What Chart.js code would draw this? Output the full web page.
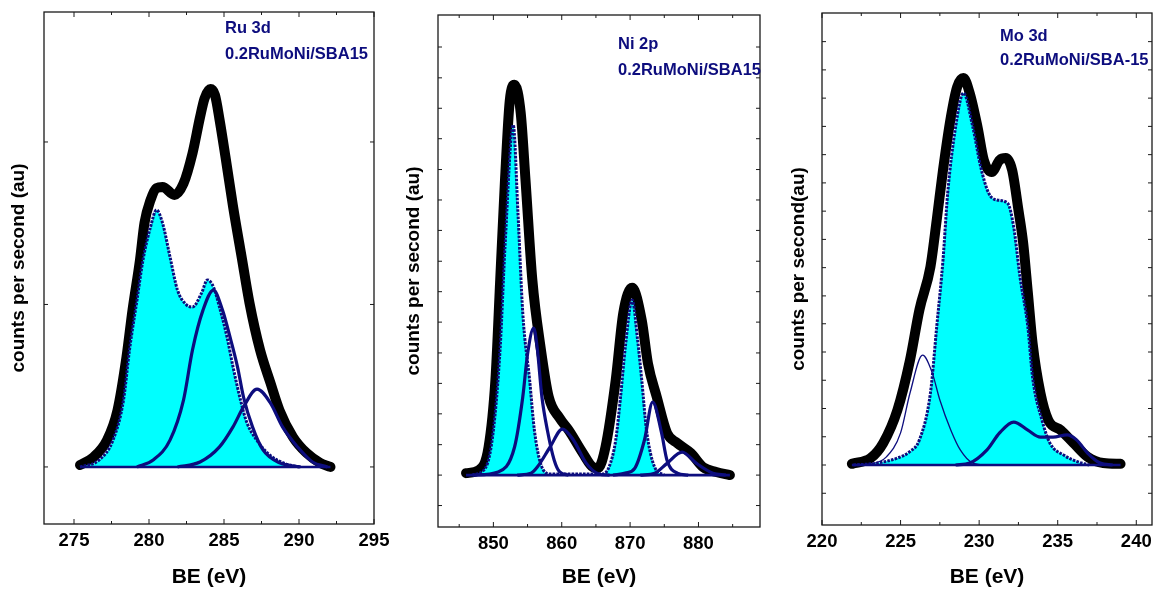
<!DOCTYPE html>
<html>
<head>
<meta charset="utf-8">
<script src="https://cdn.jsdelivr.net/npm/chart.js@4.4.1/dist/chart.umd.min.js"></script>
<style>
  html, body { margin: 0; padding: 0; background: #fff; }
  #wrap { position: relative; width: 1157px; height: 594px; overflow: hidden; }
  canvas { position: absolute; top: 0; }
</style>
</head>
<body>
<div id="wrap">
  <canvas id="ru" width="392" height="594" style="left:0px"></canvas>
  <canvas id="ni" width="390" height="594" style="left:392px"></canvas>
  <canvas id="mo" width="375" height="594" style="left:782px"></canvas>
</div>
<script>
// ---- Ru 3d ----
const ruRawBE = [275.4, 276.3, 277.2, 277.9, 278.5, 278.9, 279.4, 279.7, 280.1, 280.5, 280.9, 281.7, 282.3, 282.9, 283.4, 283.7, 284.1, 284.4, 284.7, 285.1, 285.6, 286.2, 286.7, 287.4, 288.1, 288.7, 289.6, 290.5, 291.4, 292.1];
const ruRaw = [0.5, 2.6, 7.1, 15, 29.1, 41.5, 54.8, 64.6, 70.6, 73.8, 74.1, 72, 75, 83, 92.5, 97.5, 100, 98.4, 92, 82, 69, 55, 43.4, 31, 22.2, 15, 7.9, 3.7, 1.1, 0];
const ruFillBE = [275.4, 276.7, 277.6, 278.3, 278.7, 279.2, 279.6, 280.1, 280.5, 280.9, 281.4, 281.9, 282.5, 282.9, 283.5, 283.9, 284.3, 284.7, 285.2, 285.6, 286.1, 286.5, 287.2, 288.1, 289.0, 290.0];
const ruFill = [0, 1.9, 7.1, 17.7, 31, 44.2, 54.8, 63.5, 68, 64.6, 55.6, 46.8, 42.9, 42.3, 46, 49.5, 47.6, 42.3, 34.4, 26.5, 17.7, 12, 7, 3, 1, 0];
const ruPeakABE = [279.2, 280.3, 281.4, 282.3, 282.9, 283.6, 284.3, 284.9, 285.4, 285.9, 286.3, 286.9, 287.6, 288.7, 290.1];
const ruPeakA = [0, 1.9, 7.1, 17.7, 31, 41.5, 46.8, 41.5, 34.4, 26.5, 18.5, 10.6, 4.5, 1.1, 0];
const ruPeakBBE = [281.9, 283.4, 284.7, 285.6, 286.3, 287.2, 288.1, 288.9, 289.9, 290.9, 291.9];
const ruPeakB = [0, 1.3, 5.3, 10.6, 15.9, 20.6, 16.9, 10.6, 5.3, 1.3, 0];
const ruBaseBE = [275.4, 292.1];
const ruTickLabels = [275, 280, 285, 290, 295];
const ruMinorTicks = [277.5, 282.5, 287.5, 292.5];
const ruYTicks = [0, 43, 86];

// ---- Ni 2p ----
const niRawBE = [846.0, 847.9, 849.3, 850.3, 851.0, 851.7, 852.4, 853.1, 854.0, 854.7, 855.7, 856.9, 858.1, 859.7, 861.1, 863.1, 864.6, 865.3, 866.4, 867.9, 869.0, 870.3, 871.7, 872.6, 873.9, 875.4, 876.9, 878.9, 880.7, 882.6, 884.6];
const niRaw = [0.5, 1.3, 7.2, 24.4, 50, 75.6, 96, 100, 92.8, 75.6, 50, 32.8, 20, 14.6, 11.3, 5.6, 2, 1.8, 7.2, 24.4, 41.5, 48, 39.7, 28.7, 20, 10.8, 8.2, 5.6, 2, 0.8, 0];
const niFillBE = [846.9, 848.9, 850.0, 851.0, 851.7, 852.9, 853.6, 854.3, 855.3, 856.0, 856.9, 858.3, 866.0, 866.9, 867.9, 868.6, 869.3, 870.3, 871.1, 871.7, 872.4, 873.6, 875.0];
const niFill = [0, 2, 11.5, 32.8, 58.5, 89.7, 67, 41.5, 24.4, 11.5, 3, 0.3, 0.3, 2, 9, 20, 32.8, 44.9, 34.6, 24.4, 11.5, 2, 0];
const niPeakABE = [847.0, 850.7, 853.1, 854.3, 855.0, 855.9, 856.4, 857.1, 857.9, 858.9, 859.7, 861.0];
const niPeakA = [0, 0.8, 7.2, 20, 31, 37.7, 32.8, 20, 11.5, 3.8, 0.8, 0];
const niSatABE = [853.5, 855.5, 856.4, 858.3, 860.1, 861.7, 863.6, 865.4, 867.0];
const niSatA = [0, 0.5, 2, 7.2, 11.8, 9, 3, 0.3, 0];
const niPeakBBE = [867.5, 869.3, 870.7, 872.1, 873.3, 874.6, 875.4, 876.9, 878.5];
const niPeakB = [0, 0.5, 1.8, 9, 18.7, 10.8, 3.8, 0.5, 0];
const niSatBBE = [871.5, 873.6, 875.4, 877.6, 879.7, 882.1, 884.0];
const niSatB = [0, 0.5, 3, 5.9, 3, 0.5, 0];
const niBaseBE = [846.0, 884.6];
const niTickLabels = [850, 860, 870, 880];
const niMinorTicks = [845, 855, 865, 875, 885];
const niYTicks = [-7.8, 0, 7.8, 15.7, 23.5, 31.3, 39.2, 47, 54.8, 62.7, 70.5, 78.3, 86.2, 94, 101.8, 109.7];

// ---- Mo 3d ----
const moRawBE = [221.9, 223.1, 223.9, 224.8, 225.6, 226.2, 226.9, 227.3, 227.7, 228.2, 228.6, 229.0, 229.4, 229.9, 230.3, 230.8, 231.3, 231.7, 232.1, 232.5, 232.8, 233.1, 233.4, 233.9, 234.4, 235.2, 236.0, 236.9, 237.9, 239.0];
const moRaw = [0.3, 1.8, 5.7, 14.2, 27.1, 40.1, 51.2, 63.3, 76.2, 89.9, 97.7, 100, 96.1, 87.3, 78.8, 75.7, 78.8, 79.3, 76.2, 65.9, 57.4, 44.5, 31.5, 18.6, 11.6, 9.0, 5.7, 2.1, 0.5, 0.3];
const moFillBE = [222.0, 223.5, 224.8, 225.6, 226.2, 226.9, 227.3, 227.7, 228.0, 228.5, 229.0, 229.6, 230.1, 230.6, 231.1, 231.8, 232.2, 232.6, 233.1, 233.4, 234.0, 234.5, 235.4, 236.3, 237.0];
const moFill = [0, 0.5, 1.8, 3.5, 6.5, 18.6, 35.7, 53, 70.3, 87.3, 96.1, 87.3, 77, 70.3, 68.5, 67.7, 61.5, 48.6, 35.7, 22.7, 11.6, 5.7, 2.5, 0.8, 0];
const moThinBE = [222.0, 223.1, 224.1, 225.0, 225.6, 226.4, 227.0, 227.5, 228.2, 228.8, 229.6, 230.5];
const moThin = [0, 0.3, 2.1, 8.3, 18.6, 28.4, 24, 16.8, 9, 3.9, 0.5, 0];
const moOxBE = [228.5, 229.4, 230.5, 231.3, 232.2, 233.1, 233.9, 234.7, 235.6, 236.2, 236.9, 237.7, 238.5];
const moOx = [0, 0.5, 3.9, 8.3, 11.1, 9, 7.2, 7.2, 7.8, 6.5, 3.1, 0.5, 0];
const moBaseBE = [221.9, 239.0];
const moTickLabels = [220, 225, 230, 235, 240];
const moMinorTicks = [222.5, 227.5, 232.5, 237.5];
const moYTicks = [-7.3, 0, 7.3, 14.6, 21.9, 29.2, 36.5, 43.7, 51, 58.3, 65.6, 72.9, 80.2, 87.5, 94.8, 102.1, 109.4];

const NAVY = '#0d0d7e';
const CYAN = '#00ffff';
const FONT = '"Liberation Sans", Arial, sans-serif';

const pts = (xs, ys) => xs.map((x, i) => ({ x, y: ys[i] }));

function curve(xs, ys, extra) {
  return Object.assign({
    data: pts(xs, ys),
    borderColor: NAVY,
    borderWidth: 3.2,
    pointRadius: 0,
    cubicInterpolationMode: 'monotone',
    fill: false,
    order: 1
  }, extra);
}
const raw = (xs, ys) => curve(xs, ys, { borderColor: '#000', borderWidth: 10, borderCapStyle: 'round', borderJoinStyle: 'round', order: 5 });
const filled = (xs, ys) => curve(xs, ys, { fill: 'origin', backgroundColor: CYAN, borderDash: [2.6, 1.2], borderWidth: 3, order: 4 });
const base = xs => curve(xs, xs.map(() => 0), { borderWidth: 2.6, cubicInterpolationMode: 'default', order: 3 });

// frame, inward ticks on all sides, and the panel notes
const framePlugin = {
  id: 'frame',
  afterDraw(chart, args, o) {
    const { ctx, chartArea: a, scales: { x, y } } = chart;
    ctx.save();
    ctx.strokeStyle = '#1a1a1a';
    ctx.lineWidth = 1.3;
    ctx.strokeRect(a.left, a.top, a.right - a.left, a.bottom - a.top);
    ctx.beginPath();
    const xt = (v, len) => {
      const p = x.getPixelForValue(v);
      ctx.moveTo(p, a.bottom); ctx.lineTo(p, a.bottom - len);
      ctx.moveTo(p, a.top); ctx.lineTo(p, a.top + len);
    };
    o.major.forEach(v => xt(v, 5));
    o.minor.forEach(v => xt(v, 3));
    o.yTicks.forEach(v => {
      const p = y.getPixelForValue(v);
      ctx.moveTo(a.left, p); ctx.lineTo(a.left + 4, p);
      ctx.moveTo(a.right, p); ctx.lineTo(a.right - 4, p);
    });
    ctx.lineWidth = 1;
    ctx.stroke();
    ctx.fillStyle = NAVY;
    ctx.font = 'bold 16.5px ' + FONT;
    ctx.textBaseline = 'middle';
    o.notes.forEach((t, i) => ctx.fillText(t, a.left + o.noteX, a.top + o.noteY[i]));
    ctx.restore();
  }
};

function panel(id, c) {
  new Chart(document.getElementById(id), {
    type: 'line',
    data: { datasets: c.datasets },
    options: {
      responsive: false,
      animation: false,
      events: [],
      layout: { padding: { top: c.top, right: c.right, bottom: 0, left: 0 } },
      plugins: {
        legend: { display: false },
        tooltip: { enabled: false },
        frame: { major: c.labels, minor: c.minor, yTicks: c.yTicks, notes: c.notes, noteX: c.noteX, noteY: c.noteY }
      },
      scales: {
        x: {
          type: 'linear',
          min: c.xMin, max: c.xMax,
          afterBuildTicks: s => { s.ticks = c.labels.map(v => ({ value: v })); },
          afterFit: s => { s.height = c.xh; s.paddingLeft = 0; s.paddingRight = 0; },
          grid: { display: false, drawTicks: false },
          border: { display: false },
          ticks: { color: '#000', font: { family: FONT, size: 18.5, weight: 'bold' }, padding: 6, maxRotation: 0, autoSkip: false },
          title: { display: true, text: 'BE (eV)', color: '#000', font: { family: FONT, size: 21, weight: 'bold' }, padding: { top: 0, bottom: 4 } }
        },
        y: {
          min: c.yMin, max: c.yMax,
          afterFit: s => { s.width = c.yw; s.paddingTop = 0; s.paddingBottom = 0; },
          grid: { display: false, drawTicks: false },
          border: { display: false },
          ticks: { display: false },
          title: { display: true, text: c.yTitle, color: '#000', font: { family: FONT, size: 19, weight: 'bold' }, padding: { top: c.yTitlePad, bottom: 0 } }
        }
      }
    },
    plugins: [framePlugin]
  });
}

panel('ru', {
  datasets: [
    raw(ruRawBE, ruRaw),
    filled(ruFillBE, ruFill),
    base(ruBaseBE),
    curve(ruPeakABE, ruPeakA),
    curve(ruPeakBBE, ruPeakB)
  ],
  xMin: 273, xMax: 295, yMin: -15.1, yMax: 120.4,
  labels: ruTickLabels, minor: ruMinorTicks, yTicks: ruYTicks,
  top: 12, right: 18, xh: 70, yw: 44, yTitlePad: 7,
  yTitle: 'counts per second (au)',
  notes: ['Ru 3d', '0.2RuMoNi/SBA15'], noteX: 181, noteY: [16, 42]
});

panel('ni', {
  datasets: [
    raw(niRawBE, niRaw),
    filled(niFillBE, niFill),
    base(niBaseBE),
    curve(niPeakABE, niPeakA),
    curve(niSatABE, niSatA),
    curve(niPeakBBE, niPeakB),
    curve(niSatBBE, niSatB)
  ],
  xMin: 841.9, xMax: 889, yMin: -13.3, yMax: 117.9,
  labels: niTickLabels, minor: niMinorTicks, yTicks: niYTicks,
  top: 15, right: 22, xh: 67, yw: 46, yTitlePad: 10,
  yTitle: 'counts per second (au)',
  notes: ['Ni 2p', '0.2RuMoNi/SBA15'], noteX: 180, noteY: [29, 55]
});

panel('mo', {
  datasets: [
    raw(moRawBE, moRaw),
    filled(moFillBE, moFill),
    base(moBaseBE),
    curve(moThinBE, moThin, { borderWidth: 1.3 }),
    curve(moOxBE, moOx)
  ],
  xMin: 220, xMax: 241, yMin: -15.5, yMax: 116.8,
  labels: moTickLabels, minor: moMinorTicks, yTicks: moYTicks,
  top: 13, right: 5, xh: 69, yw: 40, yTitlePad: 5,
  yTitle: 'counts per second(au)',
  notes: ['Mo 3d', '0.2RuMoNi/SBA-15'], noteX: 178, noteY: [23, 47]
});
</script>
</body>
</html>
